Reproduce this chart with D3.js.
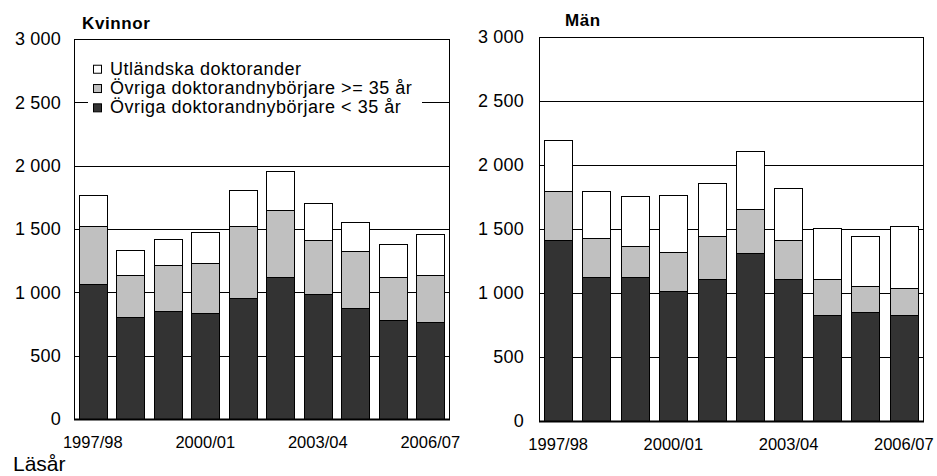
<!DOCTYPE html>
<html>
<head>
<meta charset="utf-8">
<script src="https://cdn.jsdelivr.net/npm/d3@7"></script>
<style>
  html, body { margin: 0; padding: 0; background: #fff; }
  svg { display: block; font-family: "Liberation Sans", Arial, sans-serif; }
</style>
</head>
<body>
<svg id="chart" width="937" height="476"></svg>
<script>
// ---- data ----
const categories = ["1997/98","1998/99","1999/00","2000/01","2001/02","2002/03","2003/04","2004/05","2005/06","2006/07"];
const tickLabels = ["1997/98","2000/01","2003/04","2006/07"];
const yTicks = [0, 500, 1000, 1500, 2000, 2500, 3000];
const seriesNames = ["Övriga doktorandnybörjare < 35 år", "Övriga doktorandnybörjare >= 35 år", "Utländska doktorander"];
const seriesColors = ["#333333", "#c0c0c0", "#ffffff"];

const kvinnorUnder35 = [1068, 808, 853, 837, 958, 1121, 987, 876, 784, 768];
const kvinnorOver35  = [458, 329, 363, 392, 568, 529, 429, 450, 334, 369];
const kvinnorUtl     = [245, 200, 202, 244, 284, 308, 289, 229, 261, 324];

const manUnder35 = [1415, 1123, 1123, 1016, 1110, 1311, 1110, 829, 855, 829];
const manOver35  = [378, 310, 243, 308, 336, 349, 305, 279, 203, 213];
const manUtl     = [404, 360, 388, 443, 417, 453, 407, 403, 388, 485];

// ---- drawing ----
const svg = d3.select("#chart");
const fmt = d3.formatLocale({decimal: ",", thousands: " ", grouping: [3], currency: ["", ""]}).format(",d");
const keys = ["u35", "o35", "utl"];

function panel(opts) {
  const {x0, x1, yTop, yBot, title, titleX, titleY, under, over, utl, legend, labelRight} = opts;
  const rows = categories.map((c, i) => ({cat: c, u35: under[i], o35: over[i], utl: utl[i]}));
  const stacked = d3.stack().keys(keys)(rows);

  const x = d3.scaleBand().domain(categories).range([x0, x1]).paddingInner(0.26).paddingOuter(0.13);
  const y = d3.scaleLinear().domain([0, 3000]).range([yBot, yTop]);

  const g = svg.append("g");

  // gridlines
  g.append("g").selectAll("line").data(yTicks.filter(t => t > 0 && t < 3000)).join("line")
    .attr("x1", x0).attr("x2", x1)
    .attr("y1", d => Math.round(y(d)) + 0.5).attr("y2", d => Math.round(y(d)) + 0.5)
    .attr("stroke", "#000").attr("stroke-width", 1);

  // legend background + legend
  if (legend) {
    const lg = g.append("g");
    lg.append("rect").attr("x", x0 + 14).attr("y", y(2860)).attr("width", 334).attr("height", 60).attr("fill", "#fff");
    const items = [2, 1, 0];
    items.forEach((si, k) => {
      const base = y(2860) + 18 + k * 19.3;
      lg.append("rect").attr("x", x0 + 19.5).attr("y", base - 9.5).attr("width", 8).attr("height", 8)
        .attr("fill", seriesColors[si]).attr("stroke", "#000").attr("stroke-width", 1);
      lg.append("text").attr("x", x0 + 36).attr("y", base).attr("font-size", 18).attr("letter-spacing", 0.5)
        .attr("fill", "#000").text(seriesNames[si]);
    });
  }

  // bars
  g.append("g").selectAll("g").data(stacked).join("g")
    .attr("fill", (d, i) => seriesColors[i])
    .selectAll("rect").data(d => d).join("rect")
    .attr("x", d => Math.round(x(d.data.cat)) + 0.5)
    .attr("width", Math.round(x.bandwidth()))
    .attr("y", d => Math.round(y(d[1])) + 0.5)
    .attr("height", d => Math.round(y(d[0])) - Math.round(y(d[1])))
    .attr("stroke", "#000").attr("stroke-width", 1);

  // frame
  g.append("rect").attr("x", x0 + 0.5).attr("y", Math.round(yTop) + 0.5)
    .attr("width", x1 - x0).attr("height", Math.round(yBot) - Math.round(yTop))
    .attr("fill", "none").attr("stroke", "#000").attr("stroke-width", 1);
  g.append("line").attr("x1", x0).attr("x2", x1 + 1).attr("y1", Math.round(yBot) + 0.5).attr("y2", Math.round(yBot) + 0.5)
    .attr("stroke", "#000").attr("stroke-width", 2);

  // y axis
  const ya = d3.axisLeft(y).tickValues(yTicks).tickFormat(fmt).tickSize(0).tickPadding(labelRight);
  const yg = g.append("g").attr("transform", `translate(${x0},0)`).call(ya);
  yg.select(".domain").remove();
  yg.selectAll("text").attr("font-size", 18).attr("letter-spacing", 0.2).attr("fill", "#000")
    .attr("font-family", "'Liberation Sans', Arial, sans-serif");

  // x axis
  const xa = d3.axisBottom(x).tickValues(tickLabels).tickSize(0).tickPadding(17);
  const xg = g.append("g").attr("transform", `translate(0,${yBot})`).call(xa);
  xg.select(".domain").remove();
  xg.selectAll("text").attr("font-size", 16.5).attr("fill", "#000")
    .attr("font-family", "'Liberation Sans', Arial, sans-serif");

  // title
  g.append("text").attr("x", titleX).attr("y", titleY).attr("font-size", 17).attr("font-weight", "bold")
    .attr("letter-spacing", 0.6).attr("fill", "#000").text(title);
}

panel({x0: 74, x1: 449, yTop: 39, yBot: 419, title: "Kvinnor", titleX: 82, titleY: 29,
       under: kvinnorUnder35, over: kvinnorOver35, utl: kvinnorUtl, legend: true, labelRight: 13});
panel({x0: 539, x1: 923, yTop: 37, yBot: 421, title: "Män", titleX: 565, titleY: 26,
       under: manUnder35, over: manOver35, utl: manUtl, legend: false, labelRight: 15});

svg.append("text").attr("x", 13).attr("y", 471).attr("font-size", 21).attr("fill", "#000").text("Läsår");
</script>
</body>
</html>
